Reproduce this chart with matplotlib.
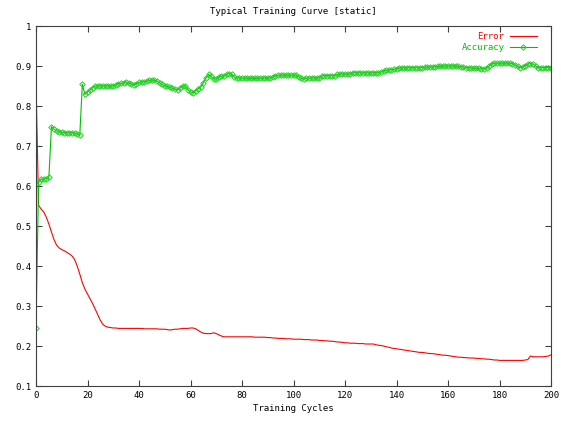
import numpy as np
import matplotlib
matplotlib.use("Agg")
import matplotlib.pyplot as plt

# training cycle index 0..200
cycles = list(range(201))

error = [
    0.862, 0.552, 0.542, 0.535, 0.522, 0.505, 0.485, 0.466, 0.452, 0.445,  # 0-9
    0.441, 0.438, 0.434, 0.430, 0.425, 0.416, 0.400, 0.380, 0.358, 0.342,  # 10-19
    0.330, 0.318, 0.306, 0.292, 0.278, 0.264, 0.254, 0.249, 0.247, 0.246,  # 20-29
    0.245, 0.245, 0.244, 0.244, 0.244, 0.244, 0.244, 0.244, 0.244, 0.244,  # 30-39
    0.244, 0.244, 0.243, 0.243, 0.243, 0.243, 0.243, 0.243, 0.242, 0.242,  # 40-49
    0.242, 0.241, 0.240, 0.241, 0.242, 0.242, 0.243, 0.244, 0.244, 0.244,  # 50-59
    0.245, 0.245, 0.243, 0.239, 0.235, 0.232, 0.231, 0.231, 0.231, 0.233,  # 60-69
    0.231, 0.228, 0.225, 0.223, 0.223, 0.223, 0.223, 0.223, 0.223, 0.223,  # 70-79
    0.223, 0.223, 0.223, 0.223, 0.223, 0.222, 0.222, 0.222, 0.222, 0.222,  # 80-89
    0.221, 0.221, 0.220, 0.220, 0.219, 0.219, 0.219, 0.218, 0.218, 0.218,  # 90-99
    0.217, 0.217, 0.217, 0.217, 0.216, 0.216, 0.216, 0.215, 0.215, 0.215,  # 100-109
    0.214, 0.214, 0.213, 0.213, 0.212, 0.212, 0.211, 0.210, 0.210, 0.209,  # 110-119
    0.208, 0.208, 0.207, 0.207, 0.207, 0.206, 0.206, 0.206, 0.205, 0.205,  # 120-129
    0.205, 0.205, 0.203, 0.202, 0.201, 0.200, 0.198, 0.197, 0.195, 0.194,  # 130-139
    0.193, 0.192, 0.191, 0.190, 0.189, 0.188, 0.187, 0.186, 0.185, 0.184,  # 140-149
    0.184, 0.183, 0.182, 0.181, 0.181, 0.180, 0.179, 0.178, 0.177, 0.177,  # 150-159
    0.176, 0.175, 0.174, 0.173, 0.172, 0.172, 0.171, 0.171, 0.170, 0.170,  # 160-169
    0.170, 0.169, 0.169, 0.168, 0.168, 0.167, 0.167, 0.166, 0.165, 0.165,  # 170-179
    0.164, 0.164, 0.164, 0.164, 0.164, 0.164, 0.164, 0.164, 0.164, 0.164,  # 180-189
    0.165, 0.166, 0.175, 0.173, 0.173, 0.173, 0.173, 0.173, 0.174, 0.175,  # 190-199
    0.178,                                                                 # 200
]

accuracy = [
    0.245, 0.610, 0.617, 0.617, 0.618, 0.622, 0.748, 0.742, 0.738, 0.735,  # 0-9
    0.734, 0.733, 0.733, 0.733, 0.733, 0.732, 0.730, 0.727, 0.854, 0.829,  # 10-19
    0.835, 0.840, 0.846, 0.850, 0.850, 0.850, 0.850, 0.850, 0.850, 0.850,  # 20-29
    0.850, 0.852, 0.856, 0.857, 0.857, 0.860, 0.858, 0.855, 0.852, 0.856,  # 30-39
    0.859, 0.860, 0.860, 0.862, 0.864, 0.865, 0.864, 0.862, 0.858, 0.854,  # 40-49
    0.850, 0.849, 0.847, 0.844, 0.842, 0.841, 0.845, 0.850, 0.849, 0.841,  # 50-59
    0.835, 0.833, 0.838, 0.843, 0.848, 0.858, 0.870, 0.879, 0.874, 0.868,  # 60-69
    0.867, 0.872, 0.875, 0.874, 0.879, 0.881, 0.879, 0.872, 0.870, 0.870,  # 70-79
    0.870, 0.870, 0.869, 0.869, 0.869, 0.869, 0.869, 0.870, 0.870, 0.870,  # 80-89
    0.870, 0.870, 0.872, 0.876, 0.877, 0.877, 0.877, 0.877, 0.877, 0.877,  # 90-99
    0.877, 0.877, 0.873, 0.869, 0.868, 0.869, 0.870, 0.870, 0.870, 0.870,  # 100-109
    0.870, 0.875, 0.876, 0.876, 0.876, 0.876, 0.876, 0.879, 0.880, 0.880,  # 110-119
    0.880, 0.880, 0.880, 0.883, 0.883, 0.883, 0.883, 0.883, 0.883, 0.883,  # 120-129
    0.883, 0.883, 0.883, 0.883, 0.885, 0.887, 0.889, 0.890, 0.891, 0.892,  # 130-139
    0.893, 0.895, 0.895, 0.895, 0.895, 0.896, 0.896, 0.896, 0.896, 0.896,  # 140-149
    0.896, 0.897, 0.897, 0.898, 0.898, 0.898, 0.899, 0.899, 0.899, 0.900,  # 150-159
    0.900, 0.900, 0.900, 0.900, 0.899, 0.898, 0.897, 0.896, 0.896, 0.895,  # 160-169
    0.895, 0.894, 0.894, 0.893, 0.893, 0.895, 0.900, 0.905, 0.907, 0.907,  # 170-179
    0.907, 0.907, 0.907, 0.907, 0.907, 0.906, 0.903, 0.899, 0.896, 0.897,  # 180-189
    0.901, 0.905, 0.906, 0.905, 0.900, 0.896, 0.896, 0.896, 0.896, 0.896,  # 190-199
    0.896,                                                                 # 200
]

x_ticks = [0, 20, 40, 60, 80, 100, 120, 140, 160, 180, 200]
y_ticks = [0.1, 0.2, 0.3, 0.4, 0.5, 0.6, 0.7, 0.8, 0.9, 1.0]
y_labels = ['0.1', '0.2', '0.3', '0.4', '0.5', '0.6', '0.7', '0.8', '0.9', '1']

plt.rcParams['font.family'] = ['DejaVu Sans Mono']

fig = plt.figure(figsize=(5.61, 4.23), dpi=100)
ax = fig.add_axes([36 / 561, 37 / 423, 515 / 561, 360 / 423])

ax.plot(cycles, error, color='#ff0000', linewidth=0.8, label='Error')
ax.plot(cycles, accuracy, color='#00c000', linewidth=0.8, marker='D',
        markersize=2.8, markerfacecolor='none', markeredgewidth=0.7,
        markeredgecolor='#20d020', label='Accuracy')

ax.set_xlim(0, 200)
ax.set_ylim(0.1, 1.0)
ax.set_xticks(x_ticks)
ax.set_yticks(y_ticks)
ax.set_yticklabels(y_labels)
ax.tick_params(direction='in', length=4, width=0.8, labelsize=6.5,
               top=True, right=True, colors='#404040', labelcolor='black')
for s in ax.spines.values():
    s.set_color('#404040')
    s.set_linewidth(0.8)

ax.set_xlabel('Training Cycles', fontsize=6.5, labelpad=3)
ax.set_title('Typical Training Curve [static]', fontsize=6.5, pad=9)

# gnuplot style key: text first, then sample, top right
leg = ax.legend(loc='upper right', frameon=False, fontsize=6.5,
                markerfirst=False, handlelength=3, labelcolor='linecolor',
                bbox_to_anchor=(0.985, 1.0),
                borderaxespad=0.3, labelspacing=0.2, handletextpad=0.6)

fig.savefig('out.png', dpi=100)
